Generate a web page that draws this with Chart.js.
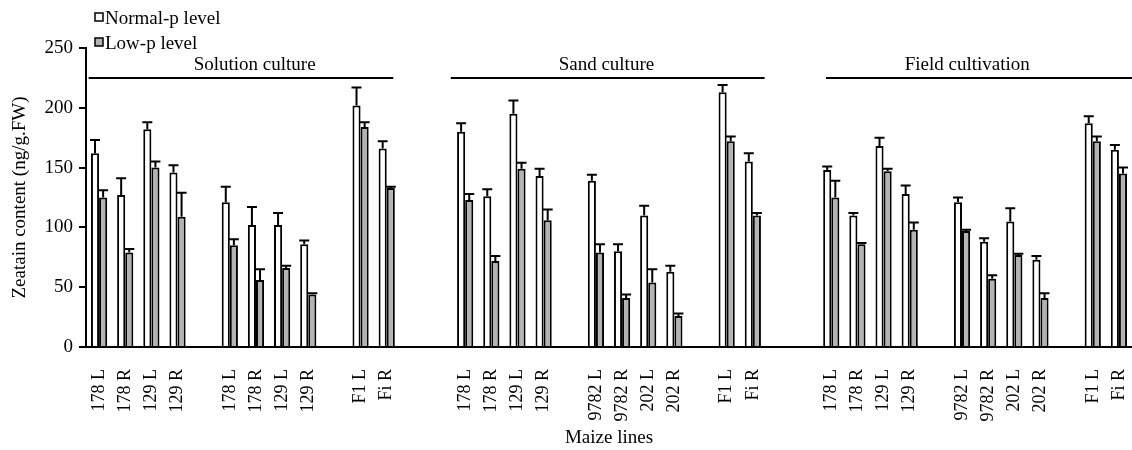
<!DOCTYPE html>
<html>
<head>
<meta charset="utf-8">
<script src="https://cdn.jsdelivr.net/npm/chart.js@4"></script>
<style>
  body{margin:0;background:#fff;}
  .box{width:1132px;height:450px;}
</style>
</head>
<body>
<div class="box"><canvas id="myChart" width="1132" height="450"></canvas></div>
<script>
// maize lines, '' = gap between sub groups
let lines=['178 L','178 R','129 L','129 R','','178 L','178 R','129 L','129 R','','F1 L','Fi R','','',
  '178 L','178 R','129 L','129 R','','9782 L','9782 R','202 L','202 R','','F1 L','Fi R','','',
  '178 L','178 R','129 L','129 R','','9782 L','9782 R','202 L','202 R','','F1 L','Fi R']

let normal_p=[162,127,182,146,null,121,102,102,86,null,202,166,null,null,
  180,126,195,143,null,139,80,110,63,null,213,155,null,null,
  148,110,168,128,null,121,88,105,73,null,187,165]
let normal_err=[11,14,6,6,null,13,15,10,3,null,15,6,null,null,
  7,6,11,6,null,5,6,8,5,null,6,7,null,null,
  3,2,7,7,null,4,3,11,3,null,6,4]

let low_p=[125,79,150,109,null,85,56,66,44,null,184,133,null,null,
  123,72,149,106,null,79,41,54,26,null,172,110,null,null,
  125,86,147,98,null,97,57,77,41,null,172,145]
let low_err=[6,3,5,20,null,5,9,2,1,null,4,1,null,null,
  5,4,5,9,null,7,3,11,2,null,4,2,null,null,
  14,1,2,6,null,1,3,1,4,null,4,5]

let y_ticks=[0,50,100,150,200,250]

// culture groups: title and span in category units
let groups=['Solution culture','Sand culture','Field cultivation']
let group_from=[-0.4,13.45,27.8]
let group_to=[11.25,25.45,39.5]
let group_mid=[5.95,19.4,33.2]

let legend_names=['Normal-p level','Low-p level']
let legend_fill=['#ffffff','#b3b3b3']

const serif="'Liberation Serif','Times New Roman',serif"

// up-only error bars with a cap
const errorBars={
  id:'errorBars',
  afterDatasetsDraw(chart){
    const ctx=chart.ctx
    const yScale=chart.scales.y
    const errs=[normal_err,low_err]
    ctx.save()
    ctx.strokeStyle='#000'
    ctx.lineWidth=2
    chart.data.datasets.forEach((ds,d)=>{
      chart.getDatasetMeta(d).data.forEach((bar,i)=>{
        if(ds.data[i]==null) return
        let top=yScale.getPixelForValue(ds.data[i]+errs[d][i])
        ctx.beginPath()
        ctx.moveTo(bar.x,bar.y)
        ctx.lineTo(bar.x,top)
        ctx.moveTo(bar.x-5,top)
        ctx.lineTo(bar.x+5,top)
        ctx.stroke()
      })
    })
    ctx.restore()
  }
}

// group headers and the legend
const extras={
  id:'extras',
  afterDraw(chart){
    const ctx=chart.ctx
    const step=(chart.chartArea.right-chart.chartArea.left)/lines.length
    const px=u=>chart.chartArea.left+(u+0.5)*step
    ctx.save()
    ctx.fillStyle='#000'
    ctx.strokeStyle='#000'
    ctx.font='19px '+serif
    ctx.textAlign='center'
    ctx.textBaseline='alphabetic'
    ctx.lineWidth=2
    for(let i=0;i<groups.length;i++){
      ctx.beginPath()
      ctx.moveTo(px(group_from[i]),78)
      ctx.lineTo(Math.min(px(group_to[i]),chart.width),78)
      ctx.stroke()
      ctx.fillText(groups[i],px(group_mid[i]),70)
    }
    ctx.textAlign='left'
    for(let i=0;i<legend_names.length;i++){
      let ly=13+i*25
      ctx.fillStyle=legend_fill[i]
      ctx.fillRect(95,ly,8,8)
      ctx.lineWidth=1.5
      ctx.strokeRect(95,ly,8,8)
      ctx.fillStyle='#000'
      ctx.fillText(legend_names[i],105,ly+11)
    }
    ctx.restore()
  }
}

const ctx=document.getElementById('myChart')
new Chart(ctx,{
  type:'bar',
  data:{
    labels:lines,
    datasets:[{
      label:legend_names[0],
      data:normal_p,
      backgroundColor:legend_fill[0],
      borderColor:'#000',
      borderWidth:2,
      categoryPercentage:0.62,
      barPercentage:1.0
    },{
      label:legend_names[1],
      data:low_p,
      backgroundColor:legend_fill[1],
      borderColor:'#000',
      borderWidth:2,
      categoryPercentage:0.62,
      barPercentage:1.0
    }]
  },
  options:{
    responsive:false,
    animation:false,
    layout:{padding:{top:48,right:0,left:0,bottom:0}},
    plugins:{legend:{display:false},tooltip:{enabled:false}},
    scales:{
      x:{
        grid:{display:false},
        border:{display:true,color:'#000',width:2},
        ticks:{
          autoSkip:false,minRotation:90,maxRotation:90,padding:14,
          color:'#000',font:{family:serif,size:18}
        },
        title:{display:true,text:'Maize lines',color:'#000',
          font:{family:serif,size:19},padding:{top:0,bottom:1}},
        afterFit(scale){
          scale.height=103
          scale.paddingLeft=0
          scale.paddingRight=0
        }
      },
      y:{
        min:0,max:250,
        afterBuildTicks(scale){scale.ticks=y_ticks.map(v=>({value:v}))},
        grid:{drawOnChartArea:false,drawTicks:true,tickLength:7,color:'#000',lineWidth:2},
        border:{display:true,color:'#000',width:2},
        ticks:{padding:6,color:'#000',font:{family:serif,size:19}},
        title:{display:true,text:'Zeatain content (ng/g.FW)',color:'#000',
          font:{family:serif,size:19},padding:{top:9,bottom:0}},
        afterFit(scale){
          scale.width=86
          scale.paddingTop=0
          scale.paddingBottom=0
        }
      }
    }
  },
  plugins:[errorBars,extras]
})
</script>
</body>
</html>
